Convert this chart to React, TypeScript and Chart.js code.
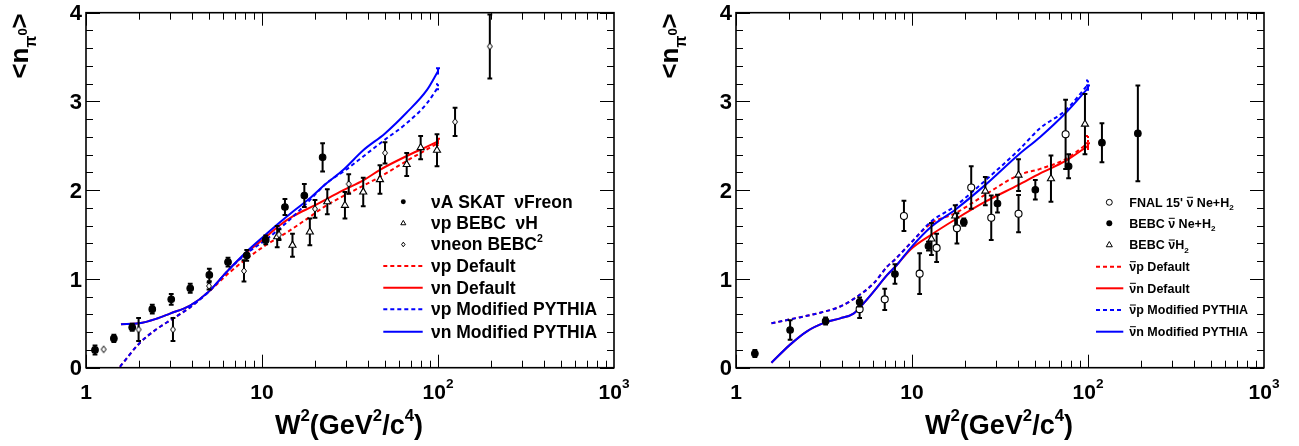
import React, { useEffect, useRef } from "react";
import { Chart, registerables } from "chart.js";

Chart.register(...registerables);

const FONT = '"Liberation Sans", Arial, Helvetica, sans-serif';
const NU = "\u03BD";

// ================= Left panel (neutrino) =================
// νA SKAT νFreon (filled circles)
const skatW2 = [1.125, 1.44, 1.83, 2.38, 3.05, 3.91, 5.02, 6.41, 8.19, 10.5, 13.5, 17.4, 22.1];
const skatN = [0.2, 0.33, 0.455, 0.66, 0.77, 0.895, 1.045, 1.19, 1.265, 1.44, 1.81, 1.94, 2.37];
const skatErr = [0.05, 0.04, 0.04, 0.05, 0.06, 0.05, 0.07, 0.05, 0.06, 0.05, 0.09, 0.13, 0.16];
// νp BEBC νH (open triangles)
const bebcHW2 = [12.2, 14.9, 18.7, 23.5, 29.6, 37.6, 46.8, 66.4, 79.7, 98.7];
const bebcHN = [1.476, 1.38, 1.53, 1.87, 1.83, 1.98, 2.12, 2.29, 2.48, 2.45];
const bebcHErr = [0.12, 0.13, 0.15, 0.14, 0.15, 0.16, 0.16, 0.13, 0.13, 0.18];
// νneon BEBC (open diamonds)
const neonW2 = [1.26, 1.99, 3.12, 5.0, 7.9, 12.5, 20.0, 31.1, 50.0, 125, 197];
const neonN = [0.207, 0.43, 0.43, 0.92, 1.09, 1.5, 1.79, 2.07, 2.42, 2.77, 3.62];
const neonErr = [0.0, 0.13, 0.13, 0.04, 0.12, 0.06, 0.1, 0.11, 0.12, 0.16, 0.36];

// curves
const nuPDefW2 = [1.56, 2.0, 2.5, 3.1, 3.9, 5.0, 6.6, 8.2, 10.5, 13.5, 17.5, 23.3, 30, 46.8, 66.4, 100];
const nuPDefN = [0.01, 0.27, 0.43, 0.55, 0.68, 0.86, 1.08, 1.23, 1.38, 1.51, 1.66, 1.83, 1.95, 2.15, 2.33, 2.53];
const nuNDefW2 = [1.58, 2.0, 2.5, 3.0, 3.9, 5.0, 6.3, 8.2, 10.5, 12.5, 15.1, 19.5, 29, 37.6, 46.8, 66.4, 86.6, 100];
const nuNDefN = [0.49, 0.5, 0.55, 0.61, 0.7, 0.86, 1.08, 1.3, 1.47, 1.6, 1.71, 1.82, 2.0, 2.11, 2.23, 2.385, 2.49, 2.55];
const nuPModW2 = [1.56, 2.0, 2.5, 3.1, 3.9, 5.0, 6.6, 8.2, 10.5, 13.5, 17.5, 23.3, 30, 37.6, 50, 66, 86.6, 100];
const nuPModN = [0.01, 0.27, 0.43, 0.55, 0.68, 0.86, 1.12, 1.29, 1.44, 1.62, 1.83, 2.08, 2.23, 2.38, 2.57, 2.75, 2.98, 3.16];
const nuNModW2 = [1.58, 2.0, 2.5, 3.0, 3.9, 5.0, 6.3, 8.2, 10.5, 12.5, 15, 18.7, 23, 29, 37.6, 50, 66, 86.6, 100];
const nuNModN = [0.49, 0.5, 0.55, 0.61, 0.7, 0.86, 1.08, 1.31, 1.5, 1.63, 1.76, 1.91, 2.07, 2.23, 2.45, 2.64, 2.87, 3.13, 3.34];

// ================= Right panel (antineutrino) =================
// FNAL 15' ν̄ Ne+H2 (open circles)
const fnalW2 = [5.04, 7.0, 9.0, 11.05, 13.8, 18.0, 21.7, 28.2, 40.3, 74.6];
const fnalN = [0.66, 0.77, 1.71, 1.06, 1.35, 1.57, 2.03, 1.69, 1.735, 2.63];
const fnalErr = [0.1, 0.12, 0.17, 0.23, 0.16, 0.17, 0.24, 0.25, 0.21, 0.39];
// BEBC ν̄ Ne+H2 (filled circles)
const bebcNeW2 = [1.28, 2.03, 3.23, 5.04, 8.0, 12.4, 19.7, 30.6, 50.2, 77.6, 120, 192];
const bebcNeN = [0.16, 0.425, 0.526, 0.74, 1.055, 1.37, 1.64, 1.85, 2.005, 2.27, 2.535, 2.64];
const bebcNeErr = [0.04, 0.11, 0.04, 0.05, 0.11, 0.05, 0.04, 0.1, 0.11, 0.135, 0.22, 0.54];
// BEBC ν̄H2 (open triangles)
const bebcH2W2 = [12.9, 17.6, 26.1, 40.3, 61.6, 96.1];
const bebcH2N = [1.45, 1.71, 1.99, 2.17, 2.13, 2.745];
const bebcH2Err = [0.18, 0.12, 0.16, 0.18, 0.26, 0.34];

const abPDefW2 = [1.59, 2.03, 3.01, 3.91, 4.87, 6.05, 7.23, 8.0, 9.78, 12.9, 17.6, 26.1, 40.3, 53.5, 74.6, 100];
const abPDefN = [0.5, 0.545, 0.62, 0.69, 0.8, 0.95, 1.14, 1.22, 1.4, 1.63, 1.74, 1.95, 2.17, 2.24, 2.35, 2.53];
const abNDefW2 = [1.59, 2.03, 2.53, 3.22, 3.91, 4.65, 5.31, 6.05, 7.23, 8.2, 9.78, 12.9, 17.6, 26.1, 40.3, 53.5, 74.6, 100];
const abNDefN = [0.056, 0.26, 0.41, 0.51, 0.556, 0.61, 0.725, 0.856, 1.045, 1.157, 1.33, 1.5, 1.67, 1.87, 2.06, 2.19, 2.33, 2.5];
const abPModW2 = [1.59, 2.03, 3.01, 3.91, 4.87, 6.05, 7.23, 8.0, 9.78, 12.9, 17.6, 21.7, 26.1, 40.3, 53.5, 74.6, 100];
const abPModN = [0.5, 0.545, 0.62, 0.69, 0.8, 0.95, 1.14, 1.22, 1.4, 1.65, 1.82, 1.97, 2.11, 2.45, 2.7, 2.9, 3.19];
const abNModW2 = [1.59, 2.03, 2.53, 3.22, 3.91, 4.65, 5.31, 6.05, 7.23, 8.2, 9.78, 12.9, 17.6, 26.1, 40.3, 53.5, 74.6, 100];
const abNModN = [0.056, 0.26, 0.41, 0.51, 0.556, 0.61, 0.725, 0.856, 1.045, 1.157, 1.345, 1.59, 1.78, 2.06, 2.4, 2.6, 2.87, 3.15];

// ================= Axes =================
const xMajorTicks = [1, 10, 100, 1000];
const xTickBase = ["1", "10", "10", "10"];
const xTickExp = ["", "", "2", "3"];
const yMajorTicks = [0, 1, 2, 3, 4];
const yTickLabels = ["0", "1", "2", "3", "4"];

type Seg = { t: string; s?: number; dy?: number; bar?: boolean };
type Marker = "filled" | "open" | "triangle" | "diamond";
interface PointSet { xs: number[]; ys: number[]; errs: number[]; marker: Marker }
interface Curve { xs: number[]; ys: number[]; color: string; dashed: boolean; endErr: number }
interface LegendRow { kind: Marker | "solid" | "dashed"; color?: string; segs: Seg[] }
interface LegendSpec { markerX: number; lineX1: number; lineX2: number; textX: number; rowsY: number[]; size: number; ms: number; rows: LegendRow[] }
interface PanelSpec { points: PointSet[]; curves: Curve[]; legend: LegendSpec }

const RED = "#ff0000";
const BLUE = "#0000ff";

const leftSpec: PanelSpec = {
  points: [
    { xs: skatW2, ys: skatN, errs: skatErr, marker: "filled" },
    { xs: neonW2, ys: neonN, errs: neonErr, marker: "diamond" },
    { xs: bebcHW2, ys: bebcHN, errs: bebcHErr, marker: "triangle" },
  ],
  curves: [
    { xs: nuNModW2, ys: nuNModN, color: BLUE, dashed: false, endErr: 0.035 },
    { xs: nuPModW2, ys: nuPModN, color: BLUE, dashed: true, endErr: 0.035 },
    { xs: nuNDefW2, ys: nuNDefN, color: RED, dashed: false, endErr: 0.03 },
    { xs: nuPDefW2, ys: nuPDefN, color: RED, dashed: true, endErr: 0.03 },
  ],
  legend: {
    markerX: 403.3, lineX1: 383.3, lineX2: 422.7, textX: 431, size: 17.5, ms: 0.75,
    rowsY: [201.7, 223.3, 244.5, 266, 287.7, 309.3, 331.7],
    rows: [
      { kind: "filled", segs: [{ t: NU + "A SKAT  " + NU + "Freon" }] },
      { kind: "triangle", segs: [{ t: NU + "p BEBC  " + NU + "H" }] },
      { kind: "diamond", segs: [{ t: NU + "neon BEBC" }, { t: "2", s: 0.6, dy: -0.5 }] },
      { kind: "dashed", color: RED, segs: [{ t: NU + "p Default" }] },
      { kind: "solid", color: RED, segs: [{ t: NU + "n Default" }] },
      { kind: "dashed", color: BLUE, segs: [{ t: NU + "p Modified PYTHIA" }] },
      { kind: "solid", color: BLUE, segs: [{ t: NU + "n Modified PYTHIA" }] },
    ],
  },
};

const rightSpec: PanelSpec = {
  points: [
    { xs: bebcNeW2, ys: bebcNeN, errs: bebcNeErr, marker: "filled" },
    { xs: fnalW2, ys: fnalN, errs: fnalErr, marker: "open" },
    { xs: bebcH2W2, ys: bebcH2N, errs: bebcH2Err, marker: "triangle" },
  ],
  curves: [
    { xs: abNModW2, ys: abNModN, color: BLUE, dashed: false, endErr: 0.03 },
    { xs: abPModW2, ys: abPModN, color: BLUE, dashed: true, endErr: 0.045 },
    { xs: abNDefW2, ys: abNDefN, color: RED, dashed: false, endErr: 0.03 },
    { xs: abPDefW2, ys: abPDefN, color: RED, dashed: true, endErr: 0.08 },
  ],
  legend: {
    markerX: 459.3, lineX1: 446, lineX2: 473.3, textX: 479.3, size: 12.5, ms: 0.9,
    rowsY: [202.3, 223.3, 245, 266.7, 288.3, 310, 331.7],
    rows: [
      { kind: "open", segs: [{ t: "FNAL 15' " }, { t: NU, bar: true }, { t: " Ne+H" }, { t: "2", s: 0.65, dy: 0.3 }] },
      { kind: "filled", segs: [{ t: "BEBC " }, { t: NU, bar: true }, { t: " Ne+H" }, { t: "2", s: 0.65, dy: 0.3 }] },
      { kind: "triangle", segs: [{ t: "BEBC " }, { t: NU, bar: true }, { t: "H" }, { t: "2", s: 0.65, dy: 0.3 }] },
      { kind: "dashed", color: RED, segs: [{ t: NU, bar: true }, { t: "p Default" }] },
      { kind: "solid", color: RED, segs: [{ t: NU, bar: true }, { t: "n Default" }] },
      { kind: "dashed", color: BLUE, segs: [{ t: NU, bar: true }, { t: "p Modified PYTHIA" }] },
      { kind: "solid", color: BLUE, segs: [{ t: NU, bar: true }, { t: "n Modified PYTHIA" }] },
    ],
  },
};

// ================= drawing helpers =================
function fontOf(size: number) {
  return `bold ${size}px ${FONT}`;
}
function richWidth(ctx: CanvasRenderingContext2D, segs: Seg[], size: number) {
  let w = 0;
  for (const sg of segs) {
    ctx.font = fontOf(size * (sg.s ?? 1));
    w += ctx.measureText(sg.t).width;
  }
  return w;
}
function drawRich(ctx: CanvasRenderingContext2D, segs: Seg[], x: number, y: number, size: number, align: "left" | "center" | "right") {
  const w = richWidth(ctx, segs, size);
  let cx = align === "left" ? x : align === "center" ? x - w / 2 : x - w;
  ctx.textAlign = "left";
  ctx.textBaseline = "alphabetic";
  for (const sg of segs) {
    const fs = size * (sg.s ?? 1);
    ctx.font = fontOf(fs);
    const by = y + (sg.dy ?? 0) * size;
    ctx.fillText(sg.t, cx, by);
    const sw = ctx.measureText(sg.t).width;
    if (sg.bar) {
      ctx.save();
      ctx.strokeStyle = ctx.fillStyle as string;
      ctx.lineWidth = Math.max(1, fs * 0.075);
      ctx.beginPath();
      ctx.moveTo(cx + sw * 0.1, by - fs * 0.74);
      ctx.lineTo(cx + sw * 0.95, by - fs * 0.74);
      ctx.stroke();
      ctx.restore();
    }
    cx += sw;
  }
}

function makeDiamond(hw: number, hh: number) {
  const c = document.createElement("canvas");
  const w = Math.ceil(hw * 2 + 3);
  const h = Math.ceil(hh * 2 + 3);
  c.width = w;
  c.height = h;
  const g = c.getContext("2d")!;
  g.fillStyle = "#fff";
  g.strokeStyle = "#000";
  g.lineWidth = 1;
  g.beginPath();
  g.moveTo(w / 2, h / 2 - hh);
  g.lineTo(w / 2 + hw, h / 2);
  g.lineTo(w / 2, h / 2 + hh);
  g.lineTo(w / 2 - hw, h / 2);
  g.closePath();
  g.fill();
  g.stroke();
  return c;
}

function drawMarker(ctx: CanvasRenderingContext2D, kind: Marker, x: number, y: number, sc: number) {
  ctx.save();
  ctx.strokeStyle = "#000";
  ctx.lineWidth = 1;
  ctx.beginPath();
  if (kind === "filled") {
    ctx.arc(x, y, 3.3 * sc, 0, Math.PI * 2);
    ctx.fillStyle = "#000";
    ctx.fill();
  } else if (kind === "open") {
    ctx.arc(x, y, 3.3 * sc, 0, Math.PI * 2);
    ctx.fillStyle = "#fff";
    ctx.fill();
    ctx.stroke();
  } else if (kind === "triangle") {
    const r = 3.9 * sc;
    for (let k = 0; k < 3; k++) {
      const a = (k * 2 * Math.PI) / 3;
      const px = x + Math.sin(a) * r;
      const py = y - Math.cos(a) * r;
      if (k === 0) ctx.moveTo(px, py);
      else ctx.lineTo(px, py);
    }
    ctx.closePath();
    ctx.fillStyle = "#fff";
    ctx.fill();
    ctx.stroke();
  } else {
    const hw = 2.3 * sc, hh = 3.1 * sc;
    ctx.moveTo(x, y - hh);
    ctx.lineTo(x + hw, y);
    ctx.lineTo(x, y + hh);
    ctx.lineTo(x - hw, y);
    ctx.closePath();
    ctx.fillStyle = "#fff";
    ctx.fill();
    ctx.stroke();
  }
  ctx.restore();
}

function buildConfig(spec: PanelSpec, width: number): any {
  const diamond = makeDiamond(2.5, 3.3);
  const datasets: any[] = [];
  for (const p of spec.points) {
    datasets.push({
      type: "line",
      showLine: false,
      data: p.xs.map((x, i) => ({ x, y: p.ys[i] })),
      pointStyle: p.marker === "diamond" ? diamond : p.marker === "triangle" ? "triangle" : "circle",
      pointRadius: p.marker === "triangle" ? 4.1 : p.marker === "open" ? 3.5 : 3.3,
      pointBackgroundColor: p.marker === "filled" ? "#000" : "#fff",
      pointBorderColor: "#000",
      pointBorderWidth: 1.1,
      errs: p.errs,
      clip: false,
    });
  }
  for (const c of spec.curves) {
    datasets.push({
      type: "line",
      data: c.xs.map((x, i) => ({ x, y: c.ys[i] })),
      borderColor: c.color,
      borderWidth: 2,
      borderDash: c.dashed ? [4, 3] : [],
      pointRadius: 0,
      cubicInterpolationMode: "monotone",
      fill: false,
      endErr: c.endErr,
    });
  }

  const plugin = {
    id: "rootStyle",
    beforeDatasetDraw(chart: any, args: any) {
      const ds = chart.data.datasets[args.index];
      if (!ds.errs) return;
      const ctx: CanvasRenderingContext2D = chart.ctx;
      const ys = chart.scales.y;
      ctx.save();
      ctx.strokeStyle = "#000";
      ctx.lineWidth = 2;
      args.meta.data.forEach((el: any, i: number) => {
        const e = ds.errs[i];
        if (!e) return;
        const v = ds.data[i].y;
        const y1 = ys.getPixelForValue(v + e);
        const y2 = ys.getPixelForValue(v - e);
        const x = el.x;
        ctx.beginPath();
        ctx.moveTo(x, y1);
        ctx.lineTo(x, y2);
        ctx.moveTo(x - 2.4, y1);
        ctx.lineTo(x + 2.4, y1);
        ctx.moveTo(x - 2.4, y2);
        ctx.lineTo(x + 2.4, y2);
        ctx.stroke();
      });
      ctx.restore();
    },
    afterDatasetDraw(chart: any, args: any) {
      const ds = chart.data.datasets[args.index];
      if (!ds.endErr) return;
      const ctx: CanvasRenderingContext2D = chart.ctx;
      const ys = chart.scales.y;
      const last = ds.data[ds.data.length - 1];
      const el = args.meta.data[ds.data.length - 1];
      ctx.save();
      ctx.strokeStyle = ds.borderColor;
      ctx.lineWidth = 2;
      ctx.setLineDash(ds.borderDash && ds.borderDash.length ? [2, 2] : []);
      ctx.beginPath();
      ctx.moveTo(el.x, ys.getPixelForValue(last.y + ds.endErr));
      ctx.lineTo(el.x, ys.getPixelForValue(last.y - ds.endErr));
      ctx.moveTo(el.x - 2, ys.getPixelForValue(last.y + ds.endErr));
      ctx.lineTo(el.x + 2, ys.getPixelForValue(last.y + ds.endErr));
      ctx.stroke();
      ctx.restore();
    },
    afterDraw(chart: any) {
      const ctx: CanvasRenderingContext2D = chart.ctx;
      const { left, right, top, bottom } = chart.chartArea;
      const xs = chart.scales.x;
      const ys = chart.scales.y;
      ctx.save();
      ctx.fillStyle = "#000";
      ctx.strokeStyle = "#000";
      // ticks
      ctx.lineWidth = 1;
      ctx.beginPath();
      for (let d = 0; d < 3; d++) {
        for (let m = 1; m <= 9; m++) {
          const v = m * Math.pow(10, d);
          const px = Math.round(xs.getPixelForValue(v)) + 0.5;
          const len = m === 1 ? 13 : 7;
          ctx.moveTo(px, bottom);
          ctx.lineTo(px, bottom - len);
          ctx.moveTo(px, top);
          ctx.lineTo(px, top + len);
        }
      }
      for (let k = 0; k <= 20; k++) {
        const v = k * 0.2;
        const py = Math.round(ys.getPixelForValue(v)) + 0.5;
        const len = k % 5 === 0 ? 14 : 7;
        ctx.moveTo(left, py);
        ctx.lineTo(left + len, py);
        ctx.moveTo(right, py);
        ctx.lineTo(right - len, py);
      }
      ctx.stroke();
      // frame
      ctx.lineWidth = 1.6;
      ctx.strokeRect(left, top, right - left, bottom - top);

      // y tick labels
      ctx.font = fontOf(22);
      ctx.textAlign = "right";
      ctx.textBaseline = "middle";
      yMajorTicks.forEach((v, i) => {
        ctx.fillText(yTickLabels[i], left - 4, ys.getPixelForValue(v) + 1.5);
      });
      // x tick labels
      xMajorTicks.forEach((v, i) => {
        const segs: Seg[] = [{ t: xTickBase[i] }];
        if (xTickExp[i]) segs.push({ t: xTickExp[i], s: 0.65, dy: -0.5 });
        drawRich(ctx, segs, xs.getPixelForValue(v), bottom + 31, 21, "center");
      });
      // x title
      drawRich(
        ctx,
        [
          { t: "W" },
          { t: "2", s: 0.62, dy: -0.45 },
          { t: "(GeV" },
          { t: "2", s: 0.62, dy: -0.45 },
          { t: "/c" },
          { t: "4", s: 0.62, dy: -0.45 },
          { t: ")" },
        ],
        (left + right) / 2 - 1,
        433.5,
        27,
        "center"
      );
      // y title (rotated)
      ctx.save();
      ctx.translate(28, top + 0.5);
      ctx.rotate(-Math.PI / 2);
      drawRich(
        ctx,
        [{ t: "<n" }, { t: "\u03C0", s: 0.6, dy: 0.3 }, { t: "0", s: 0.5, dy: -0.05 }, { t: ">" }],
        0,
        0,
        26,
        "right"
      );
      ctx.restore();

      // legend
      const L = spec.legend;
      L.rows.forEach((row, i) => {
        const y = L.rowsY[i];
        if (row.kind === "solid" || row.kind === "dashed") {
          ctx.save();
          ctx.strokeStyle = row.color!;
          ctx.lineWidth = 2;
          ctx.setLineDash(row.kind === "dashed" ? [4, 3] : []);
          ctx.beginPath();
          ctx.moveTo(L.lineX1, y);
          ctx.lineTo(L.lineX2, y);
          ctx.stroke();
          ctx.restore();
        } else {
          drawMarker(ctx, row.kind, L.markerX, y, L.ms);
        }
        ctx.fillStyle = "#000";
        drawRich(ctx, row.segs, L.textX, y + L.size * 0.34, L.size, "left");
      });
      ctx.restore();
    },
  };

  return {
    type: "line",
    data: { datasets },
    options: {
      animation: false,
      responsive: false,
      devicePixelRatio: 1,
      events: [],
      layout: { padding: { left: 86, right: width - 614, top: 12.7, bottom: 446 - 367.7 } },
      scales: {
        x: { type: "logarithmic", min: 1, max: 1000, display: false },
        y: { type: "linear", min: 0, max: 4, display: false },
      },
      plugins: { legend: { display: false }, tooltip: { enabled: false } },
    },
    plugins: [plugin],
  };
}

function Panel({ spec, left, width }: { spec: PanelSpec; left: number; width: number }) {
  const ref = useRef<HTMLCanvasElement>(null);
  useEffect(() => {
    const chart = new Chart(ref.current!, buildConfig(spec, width));
    return () => chart.destroy();
  }, [spec, width]);
  return (
    <canvas
      ref={ref}
      width={width}
      height={446}
      style={{ position: "absolute", left, top: 0, width, height: 446 }}
    />
  );
}

export default function App() {
  return (
    <div style={{ position: "absolute", left: 0, top: 0, width: 1299, height: 446, background: "#fff", overflow: "hidden" }}>
      <Panel spec={leftSpec} left={0} width={650} />
      <Panel spec={rightSpec} left={650} width={649} />
    </div>
  );
}
